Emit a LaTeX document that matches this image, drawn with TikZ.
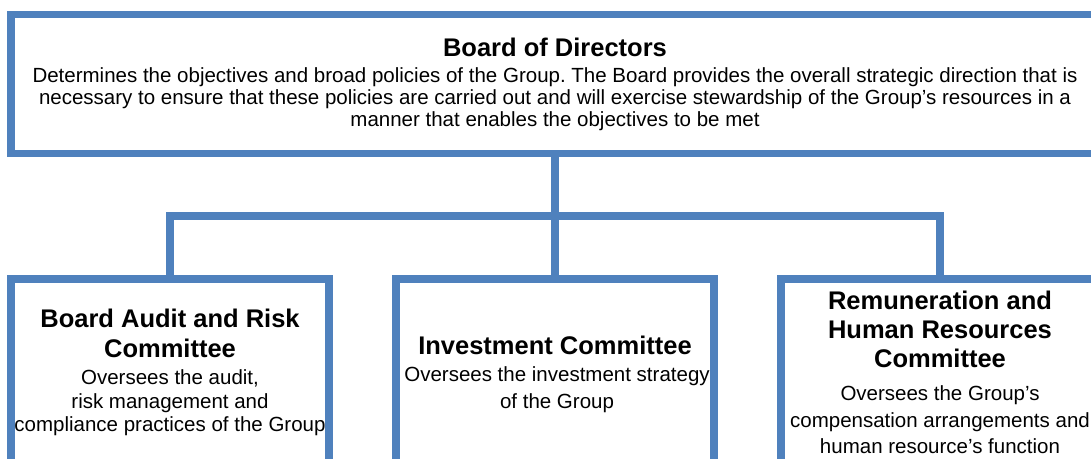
\documentclass[tikz,border=0pt]{standalone}
\usepackage{fontspec}
\setmainfont{Liberation Sans}
\definecolor{boxblue}{HTML}{4F81BD}
\frenchspacing

\tikzset{
  panel/.style={rectangle, draw=boxblue, line width=3.75pt, inner sep=0pt, minimum width=159pt, minimum height=110pt},
  link/.style={draw=boxblue, line width=3.75pt},
  heading/.style={font=\fontsize{12.75}{15}\selectfont\bfseries, align=center, inner sep=0pt},
  blurb/.style={font=\fontsize{10.25}{#1}\selectfont, align=center, inner sep=0pt},
  blurb/.default=11.75pt
}

\begin{document}
\begin{tikzpicture}[x=0.5pt, y=-0.5pt]
\clip (0,0) rectangle (1091,459);

% boxes
\node [panel, minimum width=544pt, minimum height=69.5pt] (board) at (555,84) {};
\node [panel] (audit) at (170,389) {};
\node [panel] (invest) at (555,389) {};
\node [panel] (remun) at (940,389) {};

% connectors
\path (board.south) -- (invest.north) coordinate[pos=0.5] (bus);
\draw [link] (board.south) -- (invest.north);
\draw [link] (audit.north) |- (bus) -| (remun.north);

% texts
\node [heading] (boardT) at (555,47) {Board of Directors};
\node [blurb=11pt] (boardB) at (555,99) {Determines the objectives and broad policies of the Group. The Board provides the overall strategic direction that is\\
  necessary to ensure that these policies are carried out and will exercise stewardship of the Group’s resources in a\\
  manner that enables the objectives to be met};

\node [heading] (auditT) at (170,333) {Board Audit and Risk\\Committee};
\node [blurb] (auditB) at (170,403) {Oversees the audit,\\risk management and\\compliance practices of the Group};

\node [heading] (investT) at (555,345) {Investment Committee};
\node [blurb=13.5pt] (investB) at (557,390) {Oversees the investment strategy\\of the Group};

\node [heading, font=\fontsize{12.75}{14.5}\selectfont\bfseries] (remunT) at (940,329) {Remuneration and\\Human Resources\\Committee};
\node [blurb=13.25pt] (remunB) at (940,420) {Oversees the Group’s\\compensation arrangements and\\human resource’s function};
\end{tikzpicture}
\end{document}
